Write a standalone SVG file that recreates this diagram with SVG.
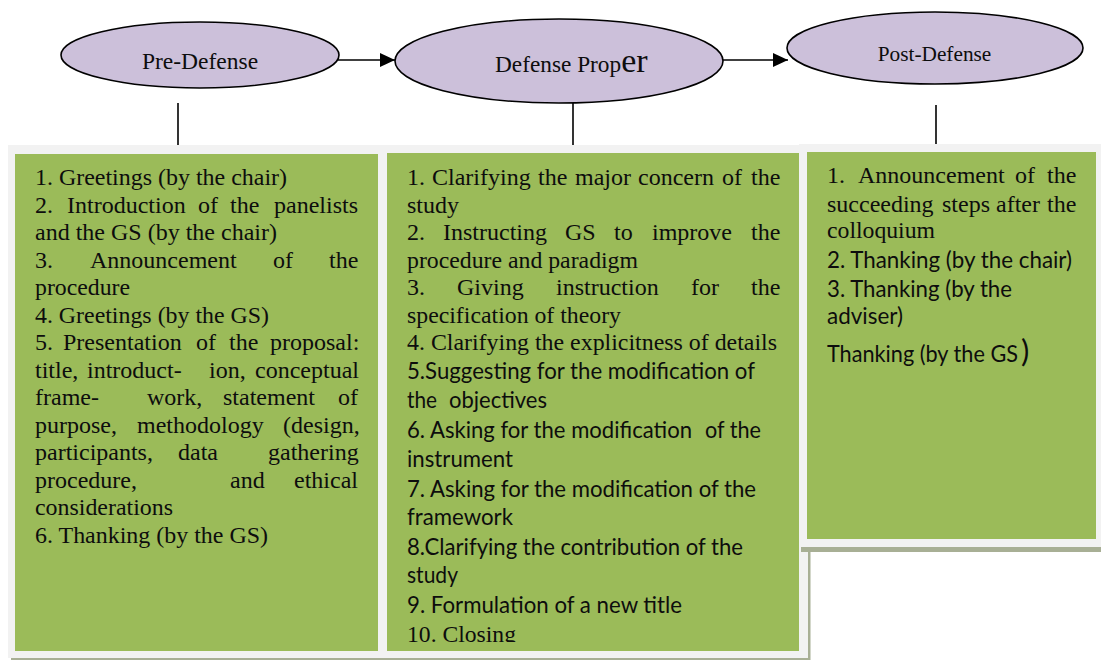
<svg xmlns="http://www.w3.org/2000/svg" width="1101" height="660" viewBox="0 0 1101 660">
<defs>
<style>
.ell{fill:#ccc0da;stroke:#000;stroke-width:1.6}
.ln{stroke:#000;stroke-width:1.6;fill:none}
.frame{fill:#f2f2f2}
.shadow{fill:#a8af95}
.green{fill:#9bbb59}
.tm{font-family:"Liberation Serif","Times New Roman",serif;font-size:24px;fill:#0d0d0d}
.cb{font-family:Lato,"Open Sans","Liberation Sans",sans-serif;font-size:23.5px;fill:#0d0d0d}
.lbl{font-family:"Liberation Serif","Times New Roman",serif;fill:#0d0d0d}
</style>
<marker id="arr" markerUnits="userSpaceOnUse" markerWidth="16" markerHeight="14" refX="15" refY="7" orient="auto">
<path d="M0,0 L15,7 L0,14 Z" fill="#000"/>
</marker>
<clipPath id="clip2"><rect x="387" y="153" width="412" height="489"/></clipPath>
</defs>
<rect width="1101" height="660" fill="#fff"/>

<g id="connectors">
<line class="ln" x1="338" y1="60" x2="395" y2="60" marker-end="url(#arr)"/>
<line class="ln" x1="723" y1="60" x2="788" y2="60" marker-end="url(#arr)"/>
<line class="ln" x1="178" y1="103" x2="178" y2="147"/>
<line class="ln" x1="573" y1="103" x2="573" y2="147"/>
<line class="ln" x1="936" y1="105" x2="936" y2="148"/>
</g>

<g id="pre-defense">
<ellipse class="ell" cx="200" cy="55" rx="139" ry="33"/>
<text class="lbl" x="200" y="69" font-size="23.5" text-anchor="middle">Pre-Defense</text>
</g>

<g id="defense-proper">
<ellipse class="ell" cx="559" cy="61" rx="164" ry="42"/>
<text class="lbl" x="495" y="72" font-size="23.3">Defense Prop<tspan font-size="34">er</tspan></text>
</g>

<g id="post-defense">
<ellipse class="ell" cx="935" cy="48" rx="148" ry="36"/>
<text class="lbl" x="934.5" y="61" font-size="21.3" text-anchor="middle">Post-Defense</text>
</g>

<g id="frame-main">
<rect class="shadow" x="11" y="148" width="799.5" height="512"/>
<rect class="frame" x="8" y="145" width="800" height="513"/>
</g>

<g id="box-pre">
<rect class="green" x="15" y="154" width="363" height="497"/>
<text class="tm" x="35" y="185" textLength="252" lengthAdjust="spacingAndGlyphs">1. Greetings (by the chair)</text>
<text class="tm" y="213"><tspan x="35">2.</tspan><tspan x="67">Introduction</tspan><tspan x="198">of</tspan><tspan x="230">the</tspan><tspan x="274">panelists</tspan></text>
<text class="tm" x="35" y="240" textLength="242" lengthAdjust="spacingAndGlyphs">and the GS (by the chair)</text>
<text class="tm" y="268"><tspan x="35">3.</tspan><tspan x="90">Announcement</tspan><tspan x="273">of</tspan><tspan x="329">the</tspan></text>
<text class="tm" x="35" y="295" textLength="95" lengthAdjust="spacingAndGlyphs">procedure</text>
<text class="tm" x="35" y="323" textLength="234" lengthAdjust="spacingAndGlyphs">4. Greetings (by the GS)</text>
<text class="tm" y="350"><tspan x="35">5.</tspan><tspan x="63">Presentation</tspan><tspan x="196">of</tspan><tspan x="229">the</tspan><tspan x="270">proposal:</tspan></text>
<text class="tm" y="378"><tspan x="35">title,</tspan><tspan x="87">introduct-</tspan><tspan x="209">ion,</tspan><tspan x="255">conceptual</tspan></text>
<text class="tm" y="405"><tspan x="35">frame-</tspan><tspan x="147">work,</tspan><tspan x="223">statement</tspan><tspan x="338">of</tspan></text>
<text class="tm" y="433"><tspan x="35">purpose,</tspan><tspan x="137">methodology</tspan><tspan x="283">(design,</tspan></text>
<text class="tm" y="460"><tspan x="35">participants,</tspan><tspan x="178">data</tspan><tspan x="268">gathering</tspan></text>
<text class="tm" y="488"><tspan x="35">procedure,</tspan><tspan x="230">and</tspan><tspan x="294">ethical</tspan></text>
<text class="tm" x="35" y="515" textLength="138" lengthAdjust="spacingAndGlyphs">considerations</text>
<text class="tm" x="35" y="543" textLength="233" lengthAdjust="spacingAndGlyphs">6. Thanking (by the GS)</text>
</g>

<g id="box-defense">
<rect class="green" x="387" y="153" width="412" height="498"/>
<g clip-path="url(#clip2)">
<text class="tm" y="185"><tspan x="407">1.</tspan><tspan x="432">Clarifying</tspan><tspan x="538">the</tspan><tspan x="575">major</tspan><tspan x="638">concern</tspan><tspan x="722">of</tspan><tspan x="751">the</tspan></text>
<text class="tm" x="407" y="213">study</text>
<text class="tm" y="240"><tspan x="407">2.</tspan><tspan x="443">Instructing</tspan><tspan x="565">GS</tspan><tspan x="614">to</tspan><tspan x="652">improve</tspan><tspan x="751">the</tspan></text>
<text class="tm" x="407" y="268" textLength="231" lengthAdjust="spacingAndGlyphs">procedure and paradigm</text>
<text class="tm" y="295"><tspan x="407">3.</tspan><tspan x="457">Giving</tspan><tspan x="556">instruction</tspan><tspan x="691">for</tspan><tspan x="751">the</tspan></text>
<text class="tm" x="407" y="323" textLength="214" lengthAdjust="spacingAndGlyphs">specification of theory</text>
<text class="tm" x="407" y="350" textLength="370" lengthAdjust="spacingAndGlyphs">4. Clarifying the explicitness of details</text>
<text class="cb" x="407" y="379" textLength="348" lengthAdjust="spacingAndGlyphs">5.Suggesting for the modification of</text>
<text class="cb" y="408"><tspan x="407" textLength="30" lengthAdjust="spacingAndGlyphs">the</tspan><tspan x="449" textLength="98" lengthAdjust="spacingAndGlyphs">objectives</tspan></text>
<text class="cb" y="438"><tspan x="407" textLength="285" lengthAdjust="spacingAndGlyphs">6. Asking for the modification</tspan><tspan x="705" textLength="56" lengthAdjust="spacingAndGlyphs">of the</tspan></text>
<text class="cb" x="407" y="467" textLength="106" lengthAdjust="spacingAndGlyphs">instrument</text>
<text class="cb" x="407" y="497" textLength="349" lengthAdjust="spacingAndGlyphs">7. Asking for the modification of the</text>
<text class="cb" x="407" y="525" textLength="106" lengthAdjust="spacingAndGlyphs">framework</text>
<text class="cb" x="407" y="555" textLength="336" lengthAdjust="spacingAndGlyphs">8.Clarifying the contribution of the</text>
<text class="cb" x="407" y="583" textLength="51" lengthAdjust="spacingAndGlyphs">study</text>
<text class="cb" x="407" y="613" textLength="275" lengthAdjust="spacingAndGlyphs">9. Formulation of a new title</text>
<text class="tm" x="407" y="642" textLength="109" lengthAdjust="spacingAndGlyphs">10. Closing</text>
</g>
</g>

<g id="box-post">
<rect class="shadow" x="801" y="148" width="300" height="404"/>
<rect class="frame" x="799" y="144" width="302" height="403"/>
<rect class="green" x="807" y="152" width="289" height="387"/>
<text class="tm" y="183"><tspan x="827">1.</tspan><tspan x="858">Announcement</tspan><tspan x="1015">of</tspan><tspan x="1047">the</tspan></text>
<text class="tm" y="212"><tspan x="827">succeeding</tspan><tspan x="942">steps</tspan><tspan x="996">after</tspan><tspan x="1047">the</tspan></text>
<text class="tm" x="827" y="238" textLength="108" lengthAdjust="spacingAndGlyphs">colloquium</text>
<text class="cb" x="827" y="268" textLength="245" lengthAdjust="spacingAndGlyphs">2. Thanking (by the chair)</text>
<text class="cb" x="827" y="297" textLength="185" lengthAdjust="spacingAndGlyphs">3. Thanking (by the</text>
<text class="cb" x="827" y="324" textLength="76" lengthAdjust="spacingAndGlyphs">adviser)</text>
<text class="cb" y="362"><tspan x="827" textLength="191" lengthAdjust="spacingAndGlyphs">Thanking (by the GS</tspan><tspan x="1021" font-size="31">)</tspan></text>
</g>
</svg>
